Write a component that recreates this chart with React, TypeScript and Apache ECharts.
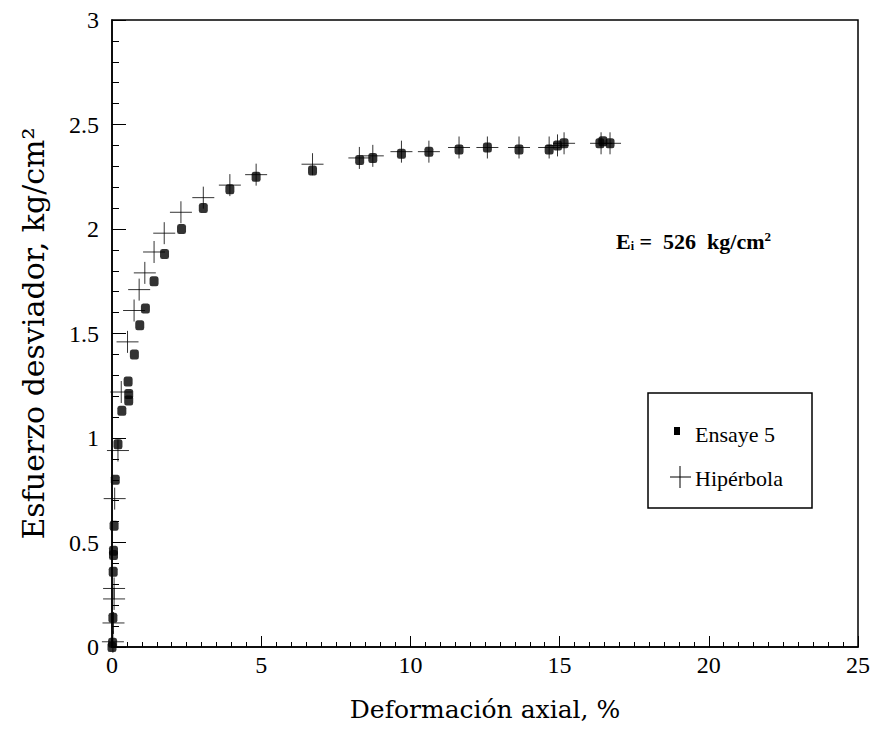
import React, { useEffect, useRef } from "react";
import * as echarts from "echarts";

// Ensaye 5 (measured points): [deformación axial %, esfuerzo desviador kg/cm²]
const ensayeX = [0.0, 0.02, 0.03, 0.04, 0.05, 0.05, 0.07, 0.11, 0.2, 0.33, 0.54, 0.56, 0.56, 0.75, 0.93, 1.12, 1.41, 1.76, 2.33, 3.06, 3.95, 4.83, 6.72, 8.3, 8.74, 9.7, 10.62, 11.63, 12.58, 13.64, 14.65, 14.93, 15.15, 16.35, 16.45, 16.69];
const ensayeY = [0.0, 0.02, 0.14, 0.36, 0.44, 0.46, 0.58, 0.8, 0.97, 1.13, 1.27, 1.21, 1.18, 1.4, 1.54, 1.62, 1.75, 1.88, 2.0, 2.1, 2.19, 2.25, 2.28, 2.33, 2.34, 2.36, 2.37, 2.38, 2.39, 2.38, 2.38, 2.4, 2.41, 2.41, 2.42, 2.41];

// Hipérbola (fitted points)
const hipX = [0.03, 0.05, 0.07, 0.07, 0.09, 0.2, 0.31, 0.52, 0.74, 0.91, 1.1, 1.41, 1.75, 2.31, 3.06, 3.95, 4.83, 6.72, 8.29, 8.74, 9.7, 10.62, 11.63, 12.58, 13.64, 14.65, 14.93, 15.15, 16.39, 16.69];
const hipY = [0.025, 0.115, 0.23, 0.28, 0.71, 0.94, 1.22, 1.46, 1.61, 1.71, 1.79, 1.89, 1.98, 2.08, 2.15, 2.21, 2.26, 2.31, 2.34, 2.35, 2.37, 2.37, 2.39, 2.39, 2.39, 2.39, 2.4, 2.41, 2.41, 2.41];

const xTicks = [0, 5, 10, 15, 20, 25];
const yTicks = [0, 0.5, 1, 1.5, 2, 2.5, 3];

const xName = "Deformación axial, %";
const yName = "Esfuerzo desviador, kg/cm²";
const seriesNames = ["Ensaye 5", "Hipérbola"];

const CROSS = "path://M10,0L10,20M0,10L20,10";

export default function App() {
  const ref = useRef<HTMLDivElement>(null);
  useEffect(() => {
    document.body.style.margin = "0";
    const chart = echarts.init(ref.current!, null, { renderer: "svg" });
    const tickFont = { fontFamily: "Liberation Serif", fontSize: 24, color: "#000" };
    chart.setOption({
      animation: false,
      backgroundColor: "#fff",
      grid: {
        left: 112,
        right: 17,
        top: 20,
        bottom: 90,
        show: true,
        borderColor: "#000",
        borderWidth: 1.5,
        backgroundColor: "transparent",
      },
      xAxis: {
        type: "value",
        min: xTicks[0],
        max: xTicks[xTicks.length - 1],
        interval: 5,
        name: xName,
        nameLocation: "middle",
        nameGap: 50,
        nameTextStyle: { fontFamily: "DejaVu Serif", fontSize: 25, color: "#000" },
        axisLine: { lineStyle: { color: "#000", width: 1.5 } },
        axisTick: { inside: true, length: 11, lineStyle: { color: "#000" } },
        minorTick: { show: true, splitNumber: 10, length: 5, lineStyle: { color: "#000" } },
        splitLine: { show: false },
        axisLabel: { ...tickFont, margin: 6 },
      },
      yAxis: {
        type: "value",
        min: yTicks[0],
        max: yTicks[yTicks.length - 1],
        interval: 0.5,
        name: yName,
        nameLocation: "middle",
        nameGap: 64,
        nameTextStyle: { fontFamily: "DejaVu Serif", fontSize: 30, color: "#000" },
        axisLine: { lineStyle: { color: "#000", width: 1.5 } },
        axisTick: { inside: true, length: 14, lineStyle: { color: "#000" } },
        minorTick: { show: true, splitNumber: 5, length: 7, lineStyle: { color: "#000" } },
        splitLine: { show: false },
        axisLabel: { ...tickFont, margin: 13, formatter: (v: number) => String(v) },
      },
      series: [
        {
          name: seriesNames[1],
          type: "scatter",
          symbol: CROSS,
          symbolSize: 22,
          itemStyle: { color: "none", borderColor: "#000", borderWidth: 1 },
          data: hipX.map((x, i) => [x, hipY[i]]),
          z: 2,
        },
        {
          name: seriesNames[0],
          type: "scatter",
          symbol: "roundRect",
          symbolSize: [9, 10],
          itemStyle: { color: "#000" },
          data: ensayeX.map((x, i) => [x, ensayeY[i]]),
          z: 3,
        },
      ],
      graphic: [
        {
          type: "text",
          left: 616,
          top: 230,
          style: {
            text: "{a|E}{b|i}{a| =  526  kg/cm}{c|2}",
            rich: {
              a: { fontFamily: "Liberation Serif", fontWeight: "bold", fontSize: 22, fill: "#000" },
              b: { fontFamily: "Liberation Serif", fontWeight: "bold", fontSize: 12, fill: "#000", verticalAlign: "bottom", padding: [8, 0, 0, 0] },
              c: { fontFamily: "Liberation Serif", fontWeight: "bold", fontSize: 13, fill: "#000", verticalAlign: "top", padding: [0, 0, 8, 0] },
            },
          },
        },
        {
          type: "rect",
          shape: { x: 648, y: 393, width: 164, height: 115 },
          style: { fill: "#fff", stroke: "#000", lineWidth: 1.5 },
          z: 10,
        },
        {
          type: "rect",
          shape: { x: 674, y: 427, width: 6, height: 8 },
          style: { fill: "#000" },
          z: 11,
        },
        {
          type: "text",
          x: 695,
          y: 434,
          style: { text: seriesNames[0], fontFamily: "Liberation Serif", fontSize: 22, fill: "#000", verticalAlign: "middle" },
          z: 11,
        },
        {
          type: "line",
          shape: { x1: 670, y1: 477, x2: 691, y2: 477 },
          style: { stroke: "#000", lineWidth: 1 },
          z: 11,
        },
        {
          type: "line",
          shape: { x1: 680, y1: 466, x2: 680, y2: 488 },
          style: { stroke: "#000", lineWidth: 1 },
          z: 11,
        },
        {
          type: "text",
          x: 695,
          y: 478,
          style: { text: seriesNames[1], fontFamily: "Liberation Serif", fontSize: 22, fill: "#000", verticalAlign: "middle" },
          z: 11,
        },
      ],
    });
    return () => chart.dispose();
  }, []);
  return <div ref={ref} style={{ position: "absolute", left: 0, top: 0, width: 875, height: 737 }} />;
}
